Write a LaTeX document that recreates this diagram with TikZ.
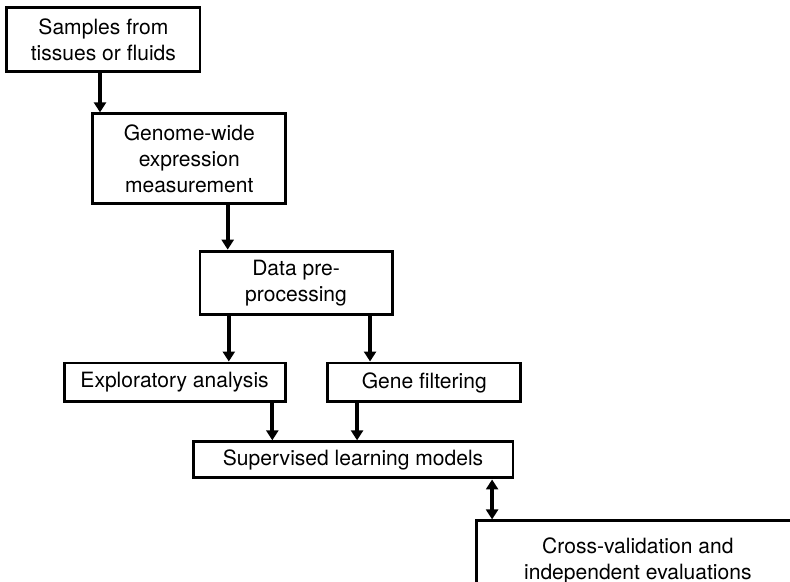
\documentclass[tikz,border=0pt]{standalone}
\usepackage{fontspec}
\setmainfont{TeX Gyre Heros}
\usepackage{tikz}
\usetikzlibrary{arrows.meta}
\usetikzlibrary{positioning}
\tikzstyle{box}=[rectangle,draw=black,line width=1.5pt,align=center,inner sep=0pt,font=\fontsize{10.6}{13.1}\selectfont]
\tikzstyle{arr}=[-{Triangle[width=6pt,length=5pt]},draw=black,line width=2pt]
\tikzstyle{darr}=[{Triangle[width=6pt,length=5pt]}-{Triangle[width=6pt,length=5pt]},draw=black,line width=2pt]

\begin{document}
\begin{tikzpicture}
    \useasboundingbox (0,0) rectangle (13.983,-10.301);
    \clip (0,0) rectangle (13.983,-10.301);
    \node[box,minimum width=3.42cm,minimum height=1.12cm] (S) at (1.83,-0.70) {Samples from\\tissues or fluids};
    \node[box,minimum width=3.42cm,minimum height=1.59cm] (G) at (3.35,-2.81) {Genome-wide\\expression\\measurement};
    \node[box,minimum width=3.40cm,minimum height=1.13cm] (P) at (5.24,-5.01) {Data pre-\\processing};
    \node[box,minimum width=3.91cm,minimum height=0.69cm] (E) at (3.09,-6.77) {Exploratory analysis};
    \node[box,minimum width=3.42cm,minimum height=0.69cm] (F) at (7.51,-6.77) {Gene filtering};
    \node[box,minimum width=5.66cm,minimum height=0.64cm] (L) at (6.25,-8.14) {Supervised learning models};
    \node[box,minimum width=5.70cm,minimum height=1.42cm] (C) at (11.29,-9.93) {Cross-validation and\\independent evaluations};
    \draw[arr] ([xshift=-0.06cm]S.south) -- ([xshift=-0.06cm]S.south |- G.north);
    \draw[arr] ([xshift=0.68cm]G.south) -- ([xshift=0.68cm]G.south |- P.north);
    \draw[arr] ([xshift=-1.19cm]P.south) -- ([xshift=-1.19cm]P.south |- E.north);
    \draw[arr] ([xshift=1.31cm]P.south) -- ([xshift=1.31cm]P.south |- F.north);
    \draw[arr] ([xshift=1.73cm]E.south) -- ([xshift=1.73cm]E.south |- L.north);
    \draw[arr] ([xshift=-1.19cm]F.south) -- ([xshift=-1.19cm]F.south |- L.north);
    \draw[darr] ([xshift=2.46cm]L.south) -- ([xshift=2.46cm]L.south |- C.north);
\end{tikzpicture}
\end{document}
